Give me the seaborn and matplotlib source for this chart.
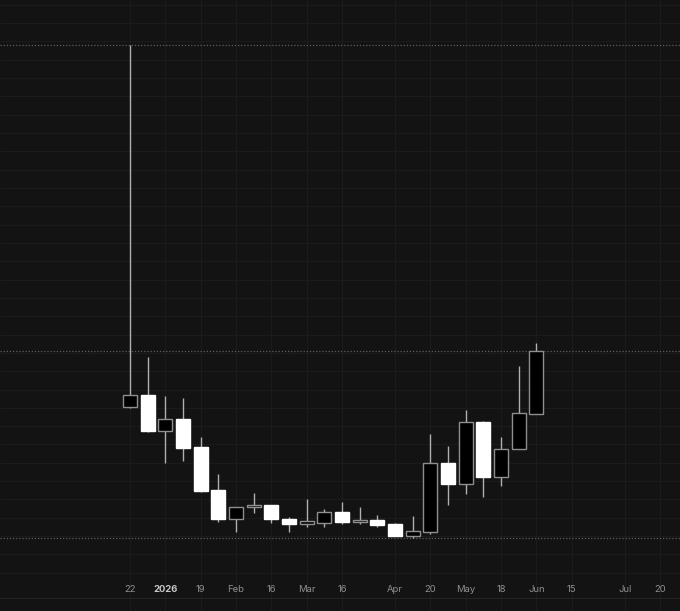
import matplotlib
matplotlib.use("Agg")
import matplotlib.pyplot as plt
import matplotlib.dates as mdates
import seaborn as sns
import numpy as np
import pandas as pd

# ---- data (weekly candles) ----
weeks = pd.date_range("2025-12-22", periods=24, freq="7D")
opens  = [24.09, 25.36, 21.50, 22.74, 19.69, 15.00, 11.89, 13.14, 13.36, 11.86, 11.28, 11.46,
          12.66, 11.53, 11.72, 11.32, 10.04, 10.48, 18.01, 15.68, 22.45, 16.41, 19.50, 23.32]
highs  = [63.61, 29.58, 25.29, 25.07, 20.78, 16.74, 13.17, 14.67, 13.36, 12.05, 14.01, 12.95,
          13.72, 13.17, 12.30, 11.46, 12.19, 21.11, 19.86, 23.76, 22.59, 20.78, 28.56, 31.04]
lows   = [24.00, 21.41, 18.01, 18.23, 14.84, 11.50, 10.48, 12.48, 11.39, 10.48, 11.02, 10.96,
          11.28, 11.35, 11.02, 10.04, 9.75, 10.19, 13.42, 14.59, 14.29, 15.50, 19.50, 23.32]
closes = [25.36, 21.50, 22.74, 19.65, 14.95, 11.89, 13.17, 13.39, 11.83, 11.32, 11.61, 12.66,
          11.57, 11.75, 11.24, 10.04, 10.52, 18.01, 15.68, 22.45, 16.41, 19.50, 23.40, 30.17]

tick_dates = ["2025-12-22", "2026-01-05", "2026-01-19", "2026-02-02", "2026-02-16",
              "2026-03-02", "2026-03-16", "2026-04-06", "2026-04-20", "2026-05-04",
              "2026-05-18", "2026-06-01", "2026-06-15", "2026-07-06", "2026-07-20"]
tick_labels = ["22", "2026", "19", "Feb", "16", "Mar", "16", "Apr", "20", "May",
               "18", "Jun", "15", "Jul", "20"]

df = pd.DataFrame({"week": weeks, "open": opens, "high": highs, "low": lows, "close": closes})
df["up"] = df["close"] >= df["open"]
df["bottom"] = df[["open", "close"]].min(axis=1)
df["body"] = (df["close"] - df["open"]).abs().clip(lower=0.12)

BG = "#131313"
GRID = "#1b1b1b"
sns.set_theme(style="dark", rc={"axes.facecolor": BG, "figure.facecolor": BG,
                                "grid.color": GRID, "axes.edgecolor": BG})
plt.rcParams["font.family"] = ["Inter", "DejaVu Sans"]

fig = plt.figure(figsize=(6.8, 6.11), dpi=100)
ax = fig.add_axes([0, 0, 1, 1])
ax.set_facecolor(BG)

x0 = mdates.date2num(pd.Timestamp("2025-12-22"))
ax.set_xlim(x0 - 51.5, x0 + 217.9)
ax.set_ylim(1.82, 68.52)

# grid
ax.set_yticks(np.arange(6, 70, 2))
ax.set_yticklabels([])
ax.set_xticks(mdates.date2num(pd.to_datetime(tick_dates)))
ax.set_xticklabels(tick_labels)
ax.grid(True, color=GRID, lw=0.8, zorder=0)
ax.tick_params(axis="both", length=0)
ax.tick_params(axis="x", pad=-18.5, labelsize=6.8, labelcolor="#8f8f8f")
for lbl in ax.get_xticklabels():
    if lbl.get_text() == "2026":
        lbl.set_fontweight("bold")
        lbl.set_color("#c8c8c8")
for s in ax.spines.values():
    s.set_visible(False)

# separator of time scale
ax.plot([0, 1], [0.0213, 0.0213], transform=ax.transAxes, color="#222222", lw=0.9, zorder=1)

# dotted reference lines: max high, last close, min low
for lvl in [max(highs), closes[-1], min(lows)]:
    ax.axhline(lvl, color="#5e5e5e", lw=0.9, ls=(0, (1, 1.5)), zorder=1)

# wicks
ax.vlines(df["week"], df["low"], df["high"], color="#b0b0b0", lw=1.0, zorder=2)

# bodies
up = df[df["up"]]
dn = df[~df["up"]]
ax.bar(up["week"], up["body"], bottom=up["bottom"], width=5.6, color="#000000",
       edgecolor="#8e8e8e", linewidth=1.0, zorder=3)
ax.bar(dn["week"], dn["body"], bottom=dn["bottom"], width=5.6, color="#ffffff",
       edgecolor="#ffffff", linewidth=1.0, zorder=3)

fig.savefig("out.png", dpi=100, facecolor=BG)
